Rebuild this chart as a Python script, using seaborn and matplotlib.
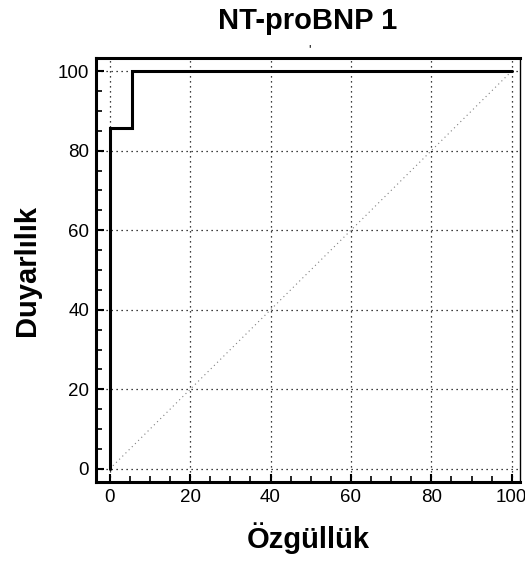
import matplotlib
matplotlib.use("Agg")
import matplotlib.pyplot as plt
import seaborn as sns
import pandas as pd
from matplotlib.ticker import MultipleLocator

sns.set_theme(style="white")
plt.rcParams['font.family'] = ['Liberation Sans', 'DejaVu Sans']
plt.rcParams['text.color'] = 'black'
plt.rcParams['axes.labelcolor'] = 'black'

fpr = [0, 0, 5.6, 5.6, 100]
tpr = [0, 85.7, 85.7, 100, 100]
diag_x = [0, 100]
diag_y = [0, 100]
ticks = [0, 20, 40, 60, 80, 100]

fig = plt.figure(figsize=(5.25, 5.62), dpi=100)
ax = fig.add_axes([0.183, 0.1423, 0.807, 0.7545])

ax.set_xlim(-3.4, 102)
ax.set_ylim(-3.3, 103.3)
for t in ticks:
    ax.axvline(t, color='black', lw=0.9, ls=(0, (1, 3)), zorder=1)
    ax.axhline(t, color='black', lw=0.9, ls=(0, (1, 3)), zorder=1)

sns.lineplot(x=diag_x, y=diag_y, ax=ax, color='gray', lw=0.8, ls=(0, (1, 3)), zorder=2)
df = pd.DataFrame({'fpr': fpr, 'tpr': tpr})
ax.plot(df['fpr'], df['tpr'], color='black', lw=2.2, zorder=3, solid_joinstyle='miter')

ax.set_xticks(ticks)
ax.set_yticks(ticks)
ax.xaxis.set_minor_locator(MultipleLocator(5))
ax.yaxis.set_minor_locator(MultipleLocator(5))
ax.tick_params(which='major', direction='in', length=6, width=1.5, labelsize=13.5, color='black', labelcolor='black',
               bottom=True, left=True, pad=5)
ax.tick_params(which='minor', direction='in', length=4, width=1.2, bottom=True, left=True, color='black')
for s in ax.spines.values():
    s.set_color('black')
    s.set_linewidth(2.2)
ax.spines['right'].set_linewidth(1.0)

ax.set_xlabel('Özgüllük', fontsize=21, fontweight='bold', labelpad=12)
ax.set_ylabel('Duyarlılık', fontsize=21, fontweight='bold', labelpad=12)
ax.set_title('NT-proBNP 1', fontsize=21, fontweight='bold', pad=21)
fig.text(0.59, 0.905, "'", fontsize=9, ha='center')

fig.savefig('out.png', dpi=100)
